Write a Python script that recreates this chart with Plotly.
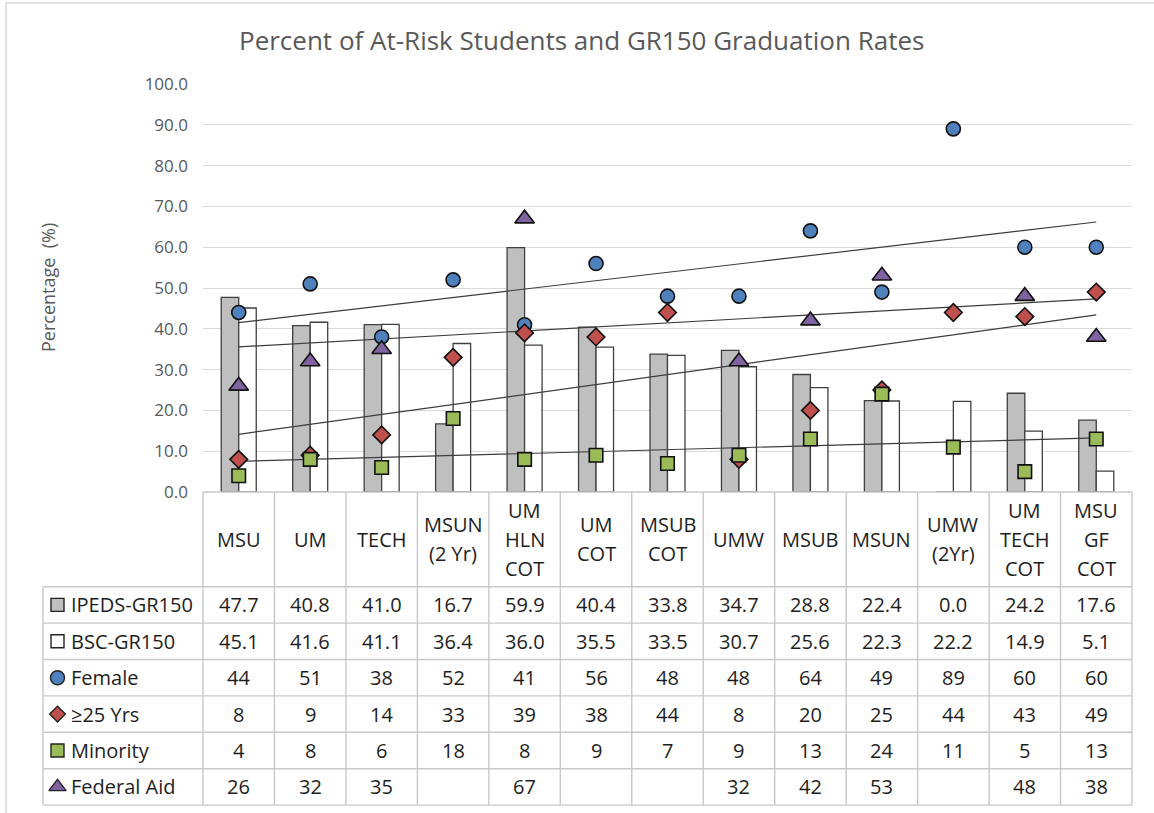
import numpy as np
import plotly.graph_objects as go

# ---------------- data ----------------
categories = ["MSU", "UM", "TECH", "MSUN\n(2 Yr)", "UM\nHLN\nCOT", "UM\nCOT", "MSUB\nCOT",
              "UMW", "MSUB", "MSUN", "UMW\n(2Yr)", "UM\nTECH\nCOT", "MSU\nGF\nCOT"]
ipeds_gr150 = [47.7, 40.8, 41.0, 16.7, 59.9, 40.4, 33.8, 34.7, 28.8, 22.4, 0.0, 24.2, 17.6]
bsc_gr150 = [45.1, 41.6, 41.1, 36.4, 36.0, 35.5, 33.5, 30.7, 25.6, 22.3, 22.2, 14.9, 5.1]
female = [44, 51, 38, 52, 41, 56, 48, 48, 64, 49, 89, 60, 60]
age25 = [8, 9, 14, 33, 39, 38, 44, 8, 20, 25, 44, 43, 49]
minority = [4, 8, 6, 18, 8, 9, 7, 9, 13, 24, 11, 5, 13]
federal_aid = [26, 32, 35, None, 67, None, None, 32, 42, 53, None, 48, 38]
y_ticks = [0, 10, 20, 30, 40, 50, 60, 70, 80, 90, 100]
title_text = "Percent of At-Risk Students and GR150 Graduation Rates"
y_title = "Percentage  (%)"

# ---------------- layout constants (pixels) ----------------
W, H = 1154, 813
PX_L, PX_R = 203, 1132
PY_TOP, PY_BOT = 84, 492
N = len(categories)
CW = (PX_R - PX_L) / N
HEAD_BOT = 586.7
ROW_H = 36.4
TAB_L = 43
GRID = "#d9d9d9"
BORDER = "#c8c8c8"
TXT = "#1e1e1e"
GREY_TXT = "#595959"
FONT = "Open Sans"

xs = list(range(N))

fig = go.Figure()

# bars
fig.add_trace(go.Bar(x=xs, y=ipeds_gr150, name="IPEDS-GR150",
                     marker=dict(color="#bfbfbf", line=dict(color="#404040", width=1.3))))
fig.add_trace(go.Bar(x=xs, y=bsc_gr150, name="BSC-GR150",
                     marker=dict(color="#ffffff", line=dict(color="#404040", width=1.3))))

series = [
    ("Female", female, "circle", 14, "#4f81bd"),
    ("\u226525 Yrs", age25, "diamond", 13.5, "#c0504d"),
    ("Minority", minority, "square", 13.5, "#9bbb59"),
    ("Federal Aid", federal_aid, "triangle-up", 17, "#8064a2"),
]

# linear trendlines (computed from the data)
for name, vals, sym, size, col in series:
    xx = np.array([i for i, v in enumerate(vals) if v is not None], dtype=float)
    yy = np.array([v for v in vals if v is not None], dtype=float)
    k, b = np.polyfit(xx, yy, 1)
    tx = np.array([0, N - 1], dtype=float)
    fig.add_trace(go.Scatter(x=tx, y=k * tx + b, mode="lines",
                             line=dict(color="#3c3c3c", width=1.2), showlegend=False,
                             hoverinfo="skip"))

# markers
for name, vals, sym, size, col in series:
    fig.add_trace(go.Scatter(x=xs, y=vals, mode="markers", name=name,
                             marker=dict(symbol=sym, size=size, color=col,
                                         line=dict(color="#111111", width=1.6)),
                             cliponaxis=False))

# legend keys inside data table (pixel overlay axes)
row_names = ["IPEDS-GR150", "BSC-GR150"] + [s[0] for s in series]
key_syms = ["square", "square"] + [s[2] for s in series]
key_sizes = [13, 13, 14, 12, 13, 15]
key_cols = ["#bfbfbf", "#ffffff"] + [s[4] for s in series]
row_centers = [HEAD_BOT + ROW_H * (i + 0.5) for i in range(len(row_names))]
for i in range(len(row_names)):
    fig.add_trace(go.Scatter(x=[57.5], y=[row_centers[i]], xaxis="x2", yaxis="y2",
                             mode="markers", showlegend=False, hoverinfo="skip",
                             cliponaxis=False,
                             marker=dict(symbol=key_syms[i], size=key_sizes[i], color=key_cols[i],
                                         line=dict(color="#222222", width=1.4))))

shapes = []
# outer chart border (top & left)
shapes.append(dict(type="line", xref="x2", yref="y2", x0=6, x1=W + 5, y0=3, y1=3,
                   line=dict(color="#d9d9d9", width=1.5)))
shapes.append(dict(type="line", xref="x2", yref="y2", x0=6, x1=6, y0=3, y1=H + 5,
                   line=dict(color="#d9d9d9", width=1.5)))
# table: vertical lines
for k in range(N + 1):
    xp = PX_L + k * CW
    shapes.append(dict(type="line", xref="x2", yref="y2", x0=xp, x1=xp, y0=PY_BOT,
                       y1=HEAD_BOT + ROW_H * len(row_names), line=dict(color=BORDER, width=1.4)))
shapes.append(dict(type="line", xref="x2", yref="y2", x0=TAB_L, x1=TAB_L, y0=HEAD_BOT,
                   y1=HEAD_BOT + ROW_H * len(row_names), line=dict(color=BORDER, width=1.4)))
# table: horizontal lines
shapes.append(dict(type="line", xref="x2", yref="y2", x0=PX_L, x1=PX_R, y0=PY_BOT, y1=PY_BOT,
                   line=dict(color=BORDER, width=1.4)))
for r in range(len(row_names) + 1):
    yp = HEAD_BOT + r * ROW_H
    shapes.append(dict(type="line", xref="x2", yref="y2", x0=TAB_L, x1=PX_R, y0=yp, y1=yp,
                       line=dict(color=BORDER, width=1.4)))

ann = []
ann.append(dict(text=title_text, xref="x2", yref="y2", x=581, y=40, showarrow=False,
                font=dict(family=FONT, size=26, color=GREY_TXT)))
ann.append(dict(text=y_title, xref="x2", yref="y2", x=48, y=288, showarrow=False,
                textangle=-90, font=dict(family=FONT, size=18, color=GREY_TXT)))
# header
LS = 29
head_c = (PY_BOT + HEAD_BOT) / 2
for i, c in enumerate(categories):
    lines = c.split("\n")
    n = len(lines)
    for j, ln in enumerate(lines):
        yc = head_c + (j - (n - 1) / 2) * LS
        ann.append(dict(text=ln, xref="x", yref="y2", x=i, y=yc, showarrow=False,
                        font=dict(family=FONT, size=20, color=TXT)))
# cells
table_rows = [
    [f"{v:.1f}" for v in ipeds_gr150],
    [f"{v:.1f}" for v in bsc_gr150],
] + [["" if v is None else f"{v:d}" for v in s[1]] for s in series]
for r, vals in enumerate(table_rows):
    for i, t in enumerate(vals):
        if t:
            ann.append(dict(text=t, xref="x", yref="y2", x=i, y=row_centers[r], showarrow=False,
                            font=dict(family=FONT, size=20, color=TXT)))
    ann.append(dict(text=row_names[r], xref="x2", yref="y2", x=69, y=row_centers[r],
                    xanchor="left", showarrow=False, font=dict(family=FONT, size=20, color=TXT)))

fig.update_layout(
    width=W, height=H, autosize=False,
    margin=dict(l=0, r=0, t=0, b=0),
    paper_bgcolor="white", plot_bgcolor="rgba(0,0,0,0)",
    barmode="group", bargap=0.51, bargroupgap=0,
    showlegend=False,
    xaxis=dict(domain=[PX_L / W, PX_R / W], range=[-0.5, N - 0.5], showgrid=False,
               zeroline=False, showticklabels=False, showline=False, ticks="", automargin=False),
    yaxis=dict(domain=[1 - PY_BOT / H, 1 - PY_TOP / H], range=[0, 100], tickvals=y_ticks,
               tickformat=".1f", showgrid=True, gridcolor=GRID, gridwidth=1, zeroline=False,
               showline=False, ticks="", ticklabelstandoff=14, automargin=False,
               tickfont=dict(family=FONT, size=17, color=GREY_TXT)),
    xaxis2=dict(domain=[0, 1], range=[0, W], visible=False, anchor="y2", fixedrange=True),
    yaxis2=dict(domain=[0, 1], range=[H, 0], visible=False, anchor="x2", fixedrange=True),
    shapes=shapes, annotations=ann,
)

fig.write_html("out.html", config={"displayModeBar": False},
               post_script="document.body.style.margin='0';")
